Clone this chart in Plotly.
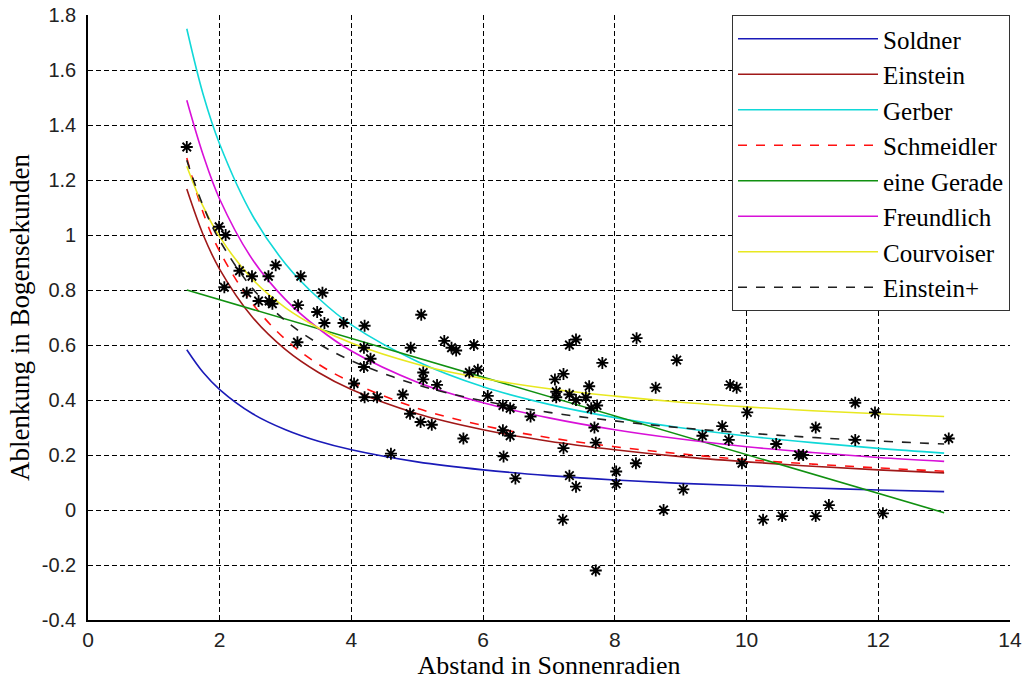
import plotly.graph_objects as go

# sample radii for the model curves
r = [1.5, 1.75, 2, 2.5, 3, 3.5, 4, 5, 6, 7, 8, 9, 10, 11, 12, 13]

soldner = [0.583, 0.50, 0.438, 0.35, 0.292, 0.25, 0.219, 0.175, 0.146, 0.125, 0.109, 0.097, 0.088, 0.08, 0.073, 0.067]
einstein = [1.167, 1.0, 0.875, 0.70, 0.583, 0.50, 0.438, 0.35, 0.292, 0.25, 0.219, 0.194, 0.175, 0.159, 0.146, 0.135]
gerber = [1.75, 1.51, 1.33, 1.07, 0.895, 0.77, 0.673, 0.54, 0.448, 0.384, 0.336, 0.299, 0.269, 0.245, 0.224, 0.207]
schmeidler = [1.28, 1.08, 0.94, 0.75, 0.62, 0.53, 0.465, 0.37, 0.307, 0.263, 0.23, 0.204, 0.183, 0.167, 0.153, 0.141]
freundlich = [1.49, 1.29, 1.13, 0.91, 0.765, 0.66, 0.578, 0.465, 0.39, 0.335, 0.292, 0.258, 0.23, 0.209, 0.191, 0.177]
courvoiser = [1.25, 1.103, 0.993, 0.838, 0.735, 0.662, 0.607, 0.53, 0.478, 0.441, 0.414, 0.392, 0.375, 0.361, 0.35, 0.34]
einstein_plus = [1.272, 1.105, 0.98, 0.805, 0.688, 0.605, 0.543, 0.455, 0.397, 0.355, 0.324, 0.299, 0.28, 0.264, 0.251, 0.24]

gerade_x = [1.5, 13]
gerade_y = [0.80, -0.01]

obs_x = [1.50, 1.99, 2.09, 2.07, 2.30, 2.49, 2.85, 2.74, 2.41, 2.59, 2.75, 2.80, 3.23, 3.56, 3.19,
         3.48, 3.59, 3.18, 3.88, 4.20, 5.06, 4.19, 4.29, 4.19, 4.90, 5.41, 5.52, 5.59, 5.86, 5.79,
         5.92, 5.09, 5.09, 5.30, 4.04, 4.20, 4.39, 4.78, 4.89, 5.05, 5.22, 4.60, 5.70, 6.07, 6.30,
         6.41, 6.72, 6.30, 6.41, 6.31, 6.49, 7.31, 7.41, 8.33, 7.81, 8.94, 7.09, 7.22, 7.11, 7.11,
         7.31, 7.41, 7.61, 7.56, 7.64, 7.73, 8.62, 9.75, 9.85, 10.01, 7.69, 7.71, 7.22, 9.33, 9.63,
         9.73, 9.93, 8.32, 7.31, 7.41, 8.02, 8.02, 9.04, 8.74, 7.21, 7.71, 11.65, 11.95, 11.05, 10.45,
         11.65, 13.07, 10.79, 10.86, 11.25, 10.25, 10.54, 11.05, 12.07]
obs_y = [1.32, 1.03, 1.00, 0.81, 0.87, 0.85, 0.89, 0.85, 0.79, 0.76, 0.76, 0.75, 0.85, 0.79, 0.745,
         0.72, 0.68, 0.61, 0.68, 0.67, 0.71, 0.59, 0.55, 0.52, 0.59, 0.615, 0.59, 0.58, 0.60, 0.50,
         0.51, 0.50, 0.475, 0.455, 0.46, 0.41, 0.41, 0.42, 0.35, 0.32, 0.31, 0.205, 0.26, 0.415, 0.38,
         0.37, 0.34, 0.29, 0.27, 0.195, 0.115, 0.60, 0.62, 0.625, 0.535, 0.545, 0.475, 0.495, 0.43, 0.41,
         0.42, 0.40, 0.45, 0.41, 0.37, 0.38, 0.445, 0.455, 0.445, 0.355, 0.30, 0.245, 0.225, 0.27, 0.305,
         0.255, 0.17, 0.17, 0.125, 0.085, 0.14, 0.095, 0.075, 0.0, -0.035, -0.22, 0.39, 0.355, 0.30, 0.24,
         0.255, 0.26, 0.20, 0.20, 0.018, -0.035, -0.022, -0.022, -0.012]

x_ticks = [0, 2, 4, 6, 8, 10, 12, 14]
y_ticks = [-0.4, -0.2, 0, 0.2, 0.4, 0.6, 0.8, 1, 1.2, 1.4, 1.6, 1.8]
y_ticktext = ["-0.4", "-0.2", "0", "0.2", "0.4", "0.6", "0.8", "1", "1.2", "1.4", "1.6", "1.8"]

SERIF = "Liberation Serif, Times New Roman, serif"
NARROW = "Liberation Sans Narrow, Arial Narrow, sans-serif"

fig = go.Figure()

curves = [
    ("Soldner", r, soldner, "#1a1ab8", "solid"),
    ("Einstein", r, einstein, "#a01818", "solid"),
    ("Gerber", r, gerber, "#10d8d8", "solid"),
    ("Schmeidler", r, schmeidler, "#ff1010", "dash"),
    ("eine Gerade", gerade_x, gerade_y, "#109010", "solid"),
    ("Freundlich", r, freundlich, "#d810d8", "solid"),
    ("Courvoiser", r, courvoiser, "#e8e820", "solid"),
    ("Einstein+", r, einstein_plus, "#202020", "dash"),
]
for name, xs, ys, col, dash in curves:
    fig.add_trace(go.Scatter(x=xs, y=ys, name=name, mode="lines",
                             line=dict(color=col, width=1.6, dash=dash, shape="spline", smoothing=1.0)))

fig.add_trace(go.Scatter(x=obs_x, y=obs_y, mode="markers", showlegend=False,
                         marker=dict(symbol="asterisk-open", size=10, color="black",
                                     line=dict(color="black", width=1.8))))

fig.update_layout(
    width=1025, height=686,
    margin=dict(l=88, r=15, t=15, b=66, autoexpand=False),
    paper_bgcolor="white", plot_bgcolor="white",
    showlegend=True,
    legend=dict(x=1, xanchor="right", y=1, yanchor="top",
                bgcolor="white", bordercolor="#333333", borderwidth=1,
                font=dict(family=SERIF, size=25, color="black"),
                itemwidth=140, tracegroupgap=0),
    xaxis=dict(range=[0, 14], tickvals=x_ticks, ticktext=[str(t) for t in x_ticks],
               showgrid=True, gridcolor="black", griddash="5px,3px", gridwidth=1.4,
               showline=True, linecolor="black", linewidth=1.6, zeroline=False,
               automargin=False, ticklabeloverflow="allow",
               ticks="", tickfont=dict(family=NARROW, size=21, color="#222"),
               title=dict(text="Abstand in Sonnenradien", standoff=4,
                          font=dict(family=SERIF, size=26, color="black"))),
    yaxis=dict(range=[-0.4, 1.8], tickvals=y_ticks, ticktext=y_ticktext,
               showgrid=True, gridcolor="black", griddash="5px,3px", gridwidth=1.4,
               showline=True, linecolor="black", linewidth=1.6, zeroline=False,
               automargin=False, ticklabeloverflow="allow",
               ticks="", ticklabelstandoff=6, tickfont=dict(family=NARROW, size=20, color="#222"),
               title=dict(text="Ablenkung in Bogensekunden", standoff=4,
                          font=dict(family=SERIF, size=27, color="black"))),
)

fig.write_html("out.html", config={"displayModeBar": False},
               post_script="document.body.style.margin='0';")
